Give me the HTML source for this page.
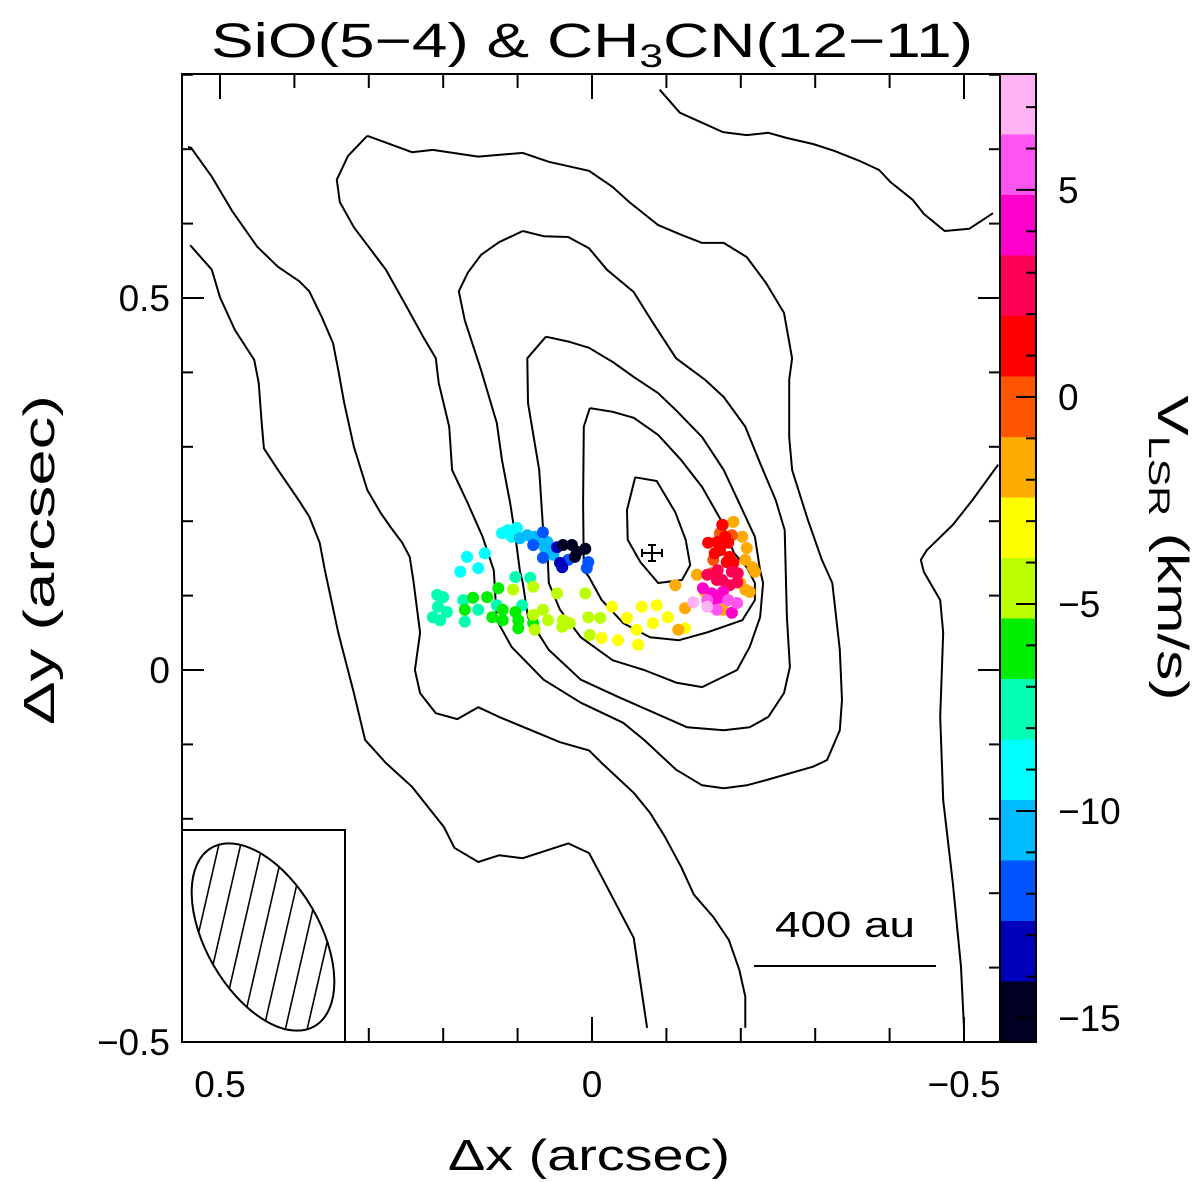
<!DOCTYPE html>
<html><head><meta charset="utf-8"><style>
html,body{margin:0;padding:0;background:#fff}
svg{display:block;font-family:"Liberation Sans",sans-serif}
</style></head><body>
<svg id="chart" width="1200" height="1182" viewBox="0 0 1200 1182">
<defs><clipPath id="beamclip"><ellipse cx="0" cy="0" rx="57" ry="103"/></clipPath>
<clipPath id="plotclip"><rect x="182" y="74" width="818" height="968"/></clipPath></defs>
<text x="592" y="57" text-anchor="middle" font-size="48" textLength="762" lengthAdjust="spacingAndGlyphs">SiO(5−4) &amp; CH<tspan font-size="32" dy="10">3</tspan><tspan dy="-10">CN(12−11)</tspan></text>
<g id="contours" clip-path="url(#plotclip)"></g>
<g id="points"></g>
<g stroke="#000" stroke-width="2">
<line x1="642" y1="553" x2="662" y2="553"/><line x1="652" y1="545" x2="652" y2="561"/>
<line x1="642" y1="549" x2="642" y2="557"/><line x1="662" y1="549" x2="662" y2="557"/>
<line x1="648" y1="545" x2="656" y2="545"/><line x1="648" y1="561" x2="656" y2="561"/></g>
<g id="ticks"></g>
<rect x="182" y="74" width="818" height="968" fill="none" stroke="#000" stroke-width="2"/>
<g>
<rect x="182" y="830" width="163" height="212" fill="#fff" stroke="#000" stroke-width="2"/>
<g transform="translate(263,937) rotate(-30)">
<g clip-path="url(#beamclip)" id="hatch" stroke="#000" stroke-width="1.6"></g>
<ellipse cx="0" cy="0" rx="57" ry="103" fill="none" stroke="#000" stroke-width="2"/></g></g>
<g>
<line x1="754" y1="966" x2="936" y2="966" stroke="#000" stroke-width="2"/>
<text x="845" y="937" text-anchor="middle" font-size="36" textLength="140" lengthAdjust="spacingAndGlyphs">400 au</text></g>
<g id="cbar"></g>
<g id="labels" font-size="37"></g>
<text x="589" y="1170" text-anchor="middle" font-size="44" textLength="282" lengthAdjust="spacingAndGlyphs">Δx (arcsec)</text>
<text transform="translate(54,560) rotate(-90)" text-anchor="middle" font-size="44" textLength="330" lengthAdjust="spacingAndGlyphs">Δy (arcsec)</text>
<text transform="translate(1158,548) rotate(90)" text-anchor="middle" font-size="44" textLength="305" lengthAdjust="spacingAndGlyphs">V<tspan font-size="30" dy="9">LSR</tspan><tspan dy="-9"> (km/s)</tspan></text>
</svg>
<script>
// ---- data ----
const xTicks = [0.5, 0, -0.5];
const xTickLabels = ["0.5", "0", "−0.5"];
const yTicks = [0.5, 0, -0.5];
const yTickLabels = ["0.5", "0", "−0.5"];
const cbTicks = [5, 0, -5, -10, -15];
const cbTickLabels = ["5", "0", "−5", "−10", "−15"];
const vMax = 7.8, vMin = -15.58;
const bandColors = ["#ffb3f5","#ff55f0","#ff00cc","#ff0055","#ff0000","#ff5500","#ffaa00","#ffff00","#bbff00","#00ee00","#00ffb0","#00ffff","#00bbff","#0055ff","#0000bb","#000022"];
const ptDx = [0.121,0.113,0.101,0.108,0.168,0.144,0.177,0.153,
0.097,0.087,0.077,0.074,0.060,0.063,0.052,
0.066,0.079,0.066,0.032,0.005,0.007,
0.047,0.043,0.040,
0.039,0.027,0.020,0.009,0.023,
0.208,0.200,0.207,0.195,0.214,0.204,0.173,0.171,0.153,0.128,0.103,0.083,0.094,
0.160,0.141,0.126,0.171,0.134,0.120,0.120,0.103,0.099,0.099,0.079,
0.106,0.079,0.047,0.009,0.079,0.066,0.059,0.077,0.039,0.040,0.030,0.005,-0.011,0.003,
-0.027,-0.047,-0.067,-0.087,-0.102,-0.082,-0.060,-0.013,-0.035,-0.062,-0.125,
-0.112,-0.125,-0.116,-0.141,-0.152,-0.199,-0.206,-0.212,-0.216,-0.219,-0.208,-0.202,-0.206,-0.176,-0.190,
-0.176,-0.163,-0.161,-0.188,-0.172,
-0.156,-0.168,-0.179,-0.183,-0.172,-0.185,-0.165,-0.181,-0.190,-0.175,
-0.155,-0.169,-0.175,-0.188,-0.196,-0.185,-0.168,-0.195,
-0.149,-0.161,-0.159,-0.172,-0.188,-0.163,-0.176,
-0.195,-0.155,-0.168,-0.183,
-0.136,-0.155];
const ptDy = [0.184,0.188,0.191,0.179,0.152,0.157,0.132,0.137,
0.177,0.181,0.179,0.171,0.172,0.164,0.155,
0.185,0.168,0.151,0.148,0.145,0.137,
0.165,0.144,0.138,
0.168,0.168,0.159,0.163,0.152,
0.101,0.098,0.085,0.078,0.071,0.067,0.094,0.065,0.081,0.087,0.125,0.124,0.087,
0.097,0.098,0.110,0.081,0.071,0.081,0.067,0.078,0.067,0.056,0.063,
0.108,0.112,0.103,0.103,0.074,0.081,0.067,0.054,0.067,0.058,0.063,0.071,0.070,0.047,
0.085,0.070,0.085,0.087,0.071,0.063,0.054,0.043,0.040,0.034,0.056,
0.114,0.083,0.054,0.128,0.105,0.117,0.108,0.105,0.138,0.132,0.164,0.179,0.148,0.081,0.199,
0.195,0.148,0.130,0.181,0.184,
0.171,0.172,0.179,0.171,0.161,0.152,0.157,0.145,0.144,0.195,
0.128,0.134,0.121,0.132,0.130,0.114,0.121,0.118,
0.110,0.103,0.091,0.097,0.077,0.085,0.105,
0.090,0.094,0.081,0.094,
0.091,0.085];
const ptV = [-9,-9,-9,-9,-9,-9,-9,-9,
-10.5,-10.5,-10.5,-10.5,-10.5,-10.5,-10.5,
-11.9,-11.9,-11.9,-11.9,-11.9,-11.9,
-13.4,-13.4,-13.4,
-14.8,-14.8,-14.8,-14.8,-14.8,
-7.5,-7.5,-7.5,-7.5,-7.5,-7.5,-7.5,-7.5,-7.5,-7.5,-7.5,-7.5,-7.5,
-6.1,-6.1,-6.1,-6.1,-6.1,-6.1,-6.1,-6.1,-6.1,-6.1,-6.1,
-4.6,-4.6,-4.6,-4.6,-4.6,-4.6,-4.6,-4.6,-4.6,-4.6,-4.6,-4.6,-4.6,-4.6,
-3.2,-3.2,-3.2,-3.2,-3.2,-3.2,-3.2,-3.2,-3.2,-3.2,-3.2,
-1.7,-1.7,-1.7,-1.7,-1.7,-1.7,-1.7,-1.7,-1.7,-1.7,-1.7,-1.7,-1.7,-1.7,-1.7,
-0.2,-0.2,-0.2,-0.2,-0.2,
1.2,1.2,1.2,1.2,1.2,1.2,1.2,1.2,1.2,1.2,
2.7,2.7,2.7,2.7,2.7,2.7,2.7,2.7,
4.2,4.2,4.2,4.2,4.2,4.2,4.2,
5.6,5.6,5.6,5.6,
7.0,7.0];
const contourA = [[0.543,0.703],[0.539,0.702],[0.511,0.663],[0.483,0.616],[0.450,0.569],[0.422,0.542],[0.394,0.523],[0.380,0.509],[0.363,0.474],[0.348,0.439],[0.341,0.403],[0.333,0.359],[0.320,0.300],[0.302,0.242],[0.284,0.211],[0.270,0.191],[0.255,0.171],[0.245,0.152],[0.240,0.120],[0.231,0.050],[0.238,0.000],[0.231,-0.031],[0.210,-0.058],[0.181,-0.066],[0.153,-0.050],[0.125,-0.063],[0.043,-0.097],[0.004,-0.108],[-0.013,-0.125],[-0.056,-0.165],[-0.078,-0.192],[-0.098,-0.224],[-0.120,-0.265],[-0.137,-0.302],[-0.163,-0.332],[-0.184,-0.363],[-0.198,-0.403],[-0.206,-0.439],[-0.206,-0.481]];
const contourB = [[0.540,0.571],[0.511,0.538],[0.500,0.501],[0.480,0.457],[0.454,0.417],[0.448,0.386],[0.444,0.332],[0.441,0.298],[0.422,0.269],[0.394,0.228],[0.380,0.206],[0.366,0.171],[0.359,0.134],[0.341,0.050],[0.320,-0.031],[0.305,-0.094],[0.277,-0.125],[0.242,-0.157],[0.199,-0.211],[0.185,-0.239],[0.153,-0.258],[0.125,-0.249],[0.093,-0.253],[0.032,-0.233],[0.004,-0.246],[-0.013,-0.278],[-0.056,-0.360],[-0.074,-0.481]];
const contourC = [[0.302,0.718],[0.328,0.691],[0.343,0.659],[0.339,0.629],[0.320,0.595],[0.277,0.538],[0.249,0.488],[0.227,0.448],[0.210,0.419],[0.206,0.386],[0.192,0.327],[0.188,0.269],[0.167,0.224],[0.147,0.179],[0.132,0.134],[0.128,0.067],[0.108,0.031],[0.065,-0.013],[0.015,-0.044],[-0.042,-0.071],[-0.070,-0.094],[-0.113,-0.134],[-0.148,-0.155],[-0.177,-0.159],[-0.208,-0.155],[-0.234,-0.148],[-0.297,-0.130],[-0.316,-0.121],[-0.333,-0.081],[-0.336,-0.040],[-0.333,0.027],[-0.323,0.117],[-0.309,0.148],[-0.290,0.202],[-0.269,0.269],[-0.265,0.313],[-0.265,0.390],[-0.269,0.419],[-0.258,0.480],[-0.234,0.520],[-0.208,0.555],[-0.177,0.574],[-0.148,0.574],[-0.120,0.585],[-0.089,0.598],[-0.050,0.629],[-0.028,0.649],[0.004,0.671],[0.058,0.683],[0.093,0.695],[0.153,0.690],[0.214,0.699],[0.242,0.696],[0.302,0.718]];
const contourD = [[0.093,0.590],[0.125,0.575],[0.149,0.558],[0.167,0.534],[0.179,0.509],[0.171,0.470],[0.149,0.403],[0.128,0.332],[0.121,0.282],[0.110,0.224],[0.103,0.179],[0.097,0.134],[0.093,0.117],[0.086,0.071],[0.058,0.027],[0.015,-0.013],[-0.035,-0.036],[-0.085,-0.058],[-0.128,-0.077],[-0.177,-0.081],[-0.212,-0.077],[-0.237,-0.063],[-0.258,-0.031],[-0.266,0.004],[-0.262,0.071],[-0.259,0.188],[-0.247,0.228],[-0.226,0.278],[-0.206,0.327],[-0.177,0.367],[-0.152,0.390],[-0.113,0.419],[-0.081,0.468],[-0.056,0.508],[-0.020,0.538],[0.004,0.567],[0.032,0.582],[0.065,0.583],[0.093,0.590]];
const contourF = [[0.062,0.448],[0.030,0.441],[0.004,0.433],[-0.028,0.414],[-0.056,0.394],[-0.089,0.372],[-0.113,0.349],[-0.148,0.313],[-0.177,0.269],[-0.198,0.224],[-0.219,0.179],[-0.226,0.134],[-0.230,0.117],[-0.226,0.071],[-0.212,0.031],[-0.195,0.000],[-0.148,-0.023],[-0.113,-0.017],[-0.070,0.000],[-0.028,0.013],[0.015,0.044],[0.043,0.081],[0.058,0.117],[0.060,0.161],[0.065,0.179],[0.071,0.269],[0.086,0.359],[0.087,0.419],[0.062,0.448]];
const contourG = [[0.003,0.352],[-0.028,0.347],[-0.056,0.339],[-0.089,0.316],[-0.120,0.282],[-0.148,0.246],[-0.173,0.202],[-0.191,0.157],[-0.208,0.138],[-0.219,0.117],[-0.219,0.094],[-0.202,0.067],[-0.156,0.051],[-0.117,0.040],[-0.078,0.044],[-0.042,0.063],[-0.013,0.094],[0.004,0.125],[0.011,0.134],[0.012,0.224],[0.011,0.327],[0.003,0.352]];
const contourH = [[-0.058,0.259],[-0.087,0.254],[-0.112,0.212],[-0.126,0.175],[-0.132,0.141],[-0.121,0.121],[-0.089,0.117],[-0.065,0.145],[-0.048,0.175],[-0.047,0.215],[-0.058,0.259]];
const contourT = [[-0.091,0.780],[-0.118,0.749],[-0.176,0.723],[-0.208,0.719],[-0.237,0.722],[-0.262,0.715],[-0.297,0.707],[-0.325,0.698],[-0.358,0.685],[-0.386,0.672],[-0.401,0.656],[-0.431,0.632],[-0.446,0.613],[-0.474,0.590],[-0.507,0.593],[-0.539,0.614]];
const contourR = [[-0.546,0.276],[-0.511,0.228],[-0.485,0.195],[-0.450,0.161],[-0.442,0.148],[-0.446,0.132],[-0.468,0.094],[-0.472,0.050],[-0.468,-0.063],[-0.472,-0.175],[-0.485,-0.286],[-0.496,-0.399],[-0.500,-0.481]];

// ---- scales ----
const X = dx => 592 - dx * 744;
const Y = dy => 670 - dy * 744;
const VY = v => 74 + (vMax - v) / (vMax - vMin) * 968;
const NS = "http://www.w3.org/2000/svg";
function mk(tag, attrs, parent) { const e = document.createElementNS(NS, tag); for (const k in attrs) e.setAttribute(k, attrs[k]); parent.appendChild(e); return e; }

// contours
const cg = document.getElementById('contours');
const allC = [["a",contourA],["b",contourB],["c",contourC],["d",contourD],["f",contourF],["g",contourG],["h",contourH],["t",contourT],["r",contourR]];
allC.forEach(([n, c]) => {
  const p = mk('polyline', {points: c.map(q => X(q[0]).toFixed(1) + ',' + Y(q[1]).toFixed(1)).join(' '), fill: 'none', stroke: '#000', 'stroke-width': 2, 'stroke-linejoin': 'round'}, cg);
  
  
});

// points
const pg = document.getElementById('points');
function colorFor(v) { let i = Math.floor((vMax - v) / (vMax - vMin) * bandColors.length); i = Math.max(0, Math.min(bandColors.length - 1, i)); return bandColors[i]; }
for (let i = 0; i < ptDx.length; i++) {
  const c = mk('circle', {cx: X(ptDx[i]).toFixed(1), cy: Y(ptDy[i]).toFixed(1), r: 6, fill: colorFor(ptV[i])}, pg);
  
  
}

// ticks
const tg = document.getElementById('ticks');
for (let k = -5; k <= 5; k++) {
  const v = k / 10, x = X(v), major = (k % 5 === 0);
  const L = major ? 25 : 14;
  mk('line', {x1: x, y1: 74, x2: x, y2: 74 + L, stroke: '#000', 'stroke-width': 2}, tg);
  mk('line', {x1: x, y1: 1042, x2: x, y2: 1042 - L, stroke: '#000', 'stroke-width': 2}, tg);
}
for (let k = -5; k <= 8; k++) {
  const v = k / 10, y = Y(v), major = (k % 5 === 0);
  const L = major ? 22 : 11;
  if (y < 74 || y > 1042) continue;
  mk('line', {x1: 182, y1: y, x2: 182 + L, y2: y, stroke: '#000', 'stroke-width': 2}, tg);
  mk('line', {x1: 1000, y1: y, x2: 1000 - L, y2: y, stroke: '#000', 'stroke-width': 2}, tg);
}

// labels
const lg = document.getElementById('labels');
xTicks.forEach((v, i) => {
  const t = mk('text', {x: X(v), y: 1097, 'text-anchor': 'middle'}, lg); t.textContent = xTickLabels[i];
  
  
});
yTicks.forEach((v, i) => {
  const t = mk('text', {x: 170, y: Y(v) + 13, 'text-anchor': 'end'}, lg); t.textContent = yTickLabels[i];
  
  
});

// colorbar
const cb = document.getElementById('cbar');
const bh = 968 / bandColors.length;
bandColors.forEach((col, i) => {
  const r = mk('rect', {x: 1000, y: (74 + i * bh).toFixed(2), width: 36, height: (bh + 0.6).toFixed(2), fill: col}, cb);
  
  
});
mk('rect', {x: 1000, y: 74, width: 36, height: 968, fill: 'none', stroke: '#000', 'stroke-width': 2}, cb);
for (let v = -15; v <= 7; v++) {
  const y = VY(v), L = (v % 5 === 0) ? 20 : 10;
  mk('line', {x1: 1036, y1: y, x2: 1036 - L, y2: y, stroke: '#000', 'stroke-width': 2}, cb);
}
cbTicks.forEach((v, i) => {
  const t = mk('text', {x: 1058, y: VY(v) + 13, 'font-size': 37}, cb); t.textContent = cbTickLabels[i];
  
  
});

// beam hatch (steep lines, top-right to bottom-left on screen)
const hg = document.getElementById('hatch');
for (let k = -8; k <= 8; k++) {
  mk('line', {x1: k * 29 + 121, y1: -130, x2: k * 29 - 121, y2: 130}, hg);
}
</script>
</body></html>
